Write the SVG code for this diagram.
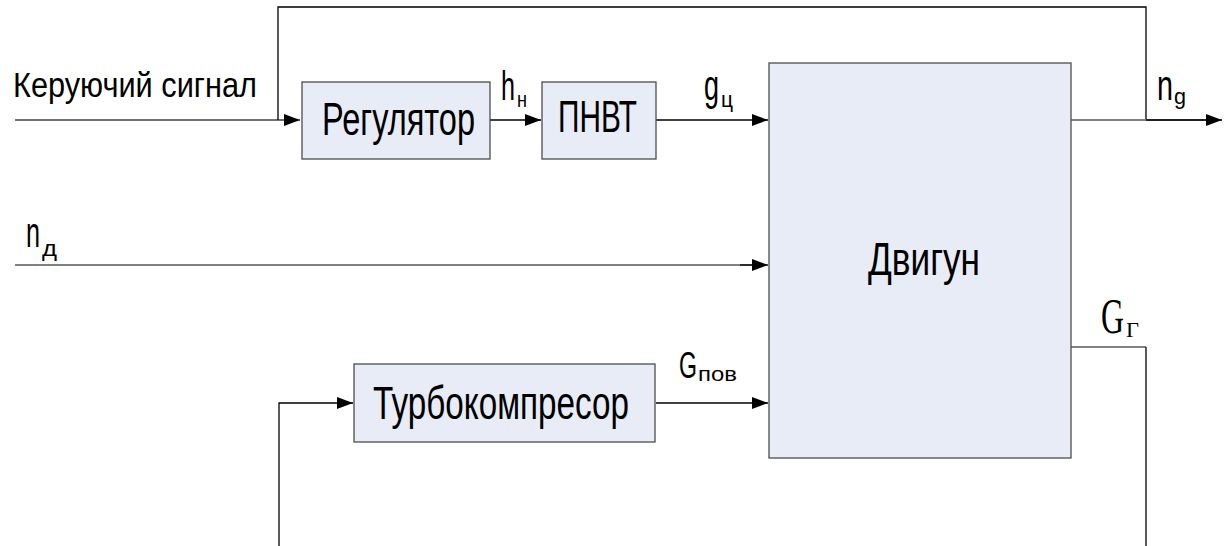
<svg xmlns="http://www.w3.org/2000/svg" width="1227" height="546" viewBox="0 0 1227 546">
<style>
.box{fill:#e8ecf6;stroke:#4d4d4d;stroke-width:1.3}
.t{font-family:"Liberation Sans Narrow","Liberation Sans",Arial,sans-serif;fill:#000}
.ln{fill:none;stroke:#000;stroke-width:1.3}
.lg{fill:none;stroke:#808080;stroke-width:2}
.ld{fill:none;stroke:#404040;stroke-width:1.5}
.serif{font-family:"Liberation Serif","Times New Roman",serif;fill:#000}
</style>
<defs>
<marker id="ar" markerWidth="16" markerHeight="12" refX="16" refY="6" orient="auto" markerUnits="userSpaceOnUse">
<path d="M0,0 L16,6 L0,12 Z" fill="#000"/>
</marker>
</defs>
<g id="connectors">
<polyline class="ld" points="15,120 300,120" marker-end="url(#ar)"/>
<polyline class="ln" points="278,120 278,7 1146,7 1146,120"/>
<line class="ln" x1="490" y1="120" x2="541" y2="120" marker-end="url(#ar)"/>
<line class="ln" x1="656" y1="120" x2="768" y2="120" marker-end="url(#ar)"/>
<line class="lg" x1="1071" y1="120" x2="1206" y2="120"/>
<line class="ln" x1="1146" y1="120" x2="1222" y2="120" marker-end="url(#ar)"/>
<line class="lg" x1="15" y1="265" x2="752" y2="265"/>
<line class="ln" x1="740" y1="265" x2="768" y2="265" marker-end="url(#ar)"/>
<line class="ln" x1="656" y1="403" x2="768" y2="403" marker-end="url(#ar)"/>
<polyline class="ln" points="279,546 279,403 353,403" marker-end="url(#ar)"/>
<polyline class="lg" points="1071,347 1146,347"/>
<polyline class="ln" points="1146,347 1146,546"/>
</g>
<g id="label-control">
<text class="t" x="13" y="97" font-size="35" textLength="244" lengthAdjust="spacingAndGlyphs">Керуючий сигнал</text>
</g>
<g id="node-regulator">
<rect class="box" x="302" y="82" width="188" height="77"/>
<text class="t" x="322" y="135" font-size="46" textLength="153" lengthAdjust="spacingAndGlyphs">Регулятор</text>
</g>
<g id="node-pnvt">
<rect class="box" x="542" y="82" width="114" height="77"/>
<text class="t" x="558" y="132" font-size="45" textLength="79" lengthAdjust="spacingAndGlyphs">ПНВТ</text>
</g>
<g id="node-engine">
<rect class="box" x="769" y="63" width="302" height="395"/>
<text class="t" x="868" y="275" font-size="46" textLength="112" lengthAdjust="spacingAndGlyphs">Двигун</text>
</g>
<g id="node-turbo">
<rect class="box" x="354" y="364" width="301" height="78"/>
<text class="t" x="373" y="419" font-size="46" textLength="256" lengthAdjust="spacingAndGlyphs">Турбокомпресор</text>
</g>
<g id="labels">
<text class="t" x="501" y="100" font-size="40" textLength="14" lengthAdjust="spacingAndGlyphs">h</text>
<text class="t" x="517" y="107" font-size="22" textLength="10" lengthAdjust="spacingAndGlyphs">н</text>
<text class="t" x="704" y="100" font-size="42" textLength="15" lengthAdjust="spacingAndGlyphs">g</text>
<text class="t" x="721" y="107" font-size="22" textLength="12" lengthAdjust="spacingAndGlyphs">ц</text>
<text class="t" x="1157" y="100" font-size="42" textLength="16" lengthAdjust="spacingAndGlyphs">n</text>
<text class="t" x="1174" y="104" font-size="22" textLength="12" lengthAdjust="spacingAndGlyphs">g</text>
<text class="t" x="26" y="247" font-size="42" textLength="14" lengthAdjust="spacingAndGlyphs">n</text>
<text class="t" x="42" y="256" font-size="22" textLength="15" lengthAdjust="spacingAndGlyphs">д</text>
<text class="t" x="679" y="378" font-size="36" textLength="18" lengthAdjust="spacingAndGlyphs">G</text>
<text class="t" x="698" y="381" font-size="21" textLength="39" lengthAdjust="spacingAndGlyphs">пов</text>
<text class="serif" x="1101" y="333" font-size="50" textLength="23" lengthAdjust="spacingAndGlyphs">G</text>
<text class="serif" x="1126" y="337" font-size="22" textLength="13" lengthAdjust="spacingAndGlyphs">Г</text>
</g>
</svg>
